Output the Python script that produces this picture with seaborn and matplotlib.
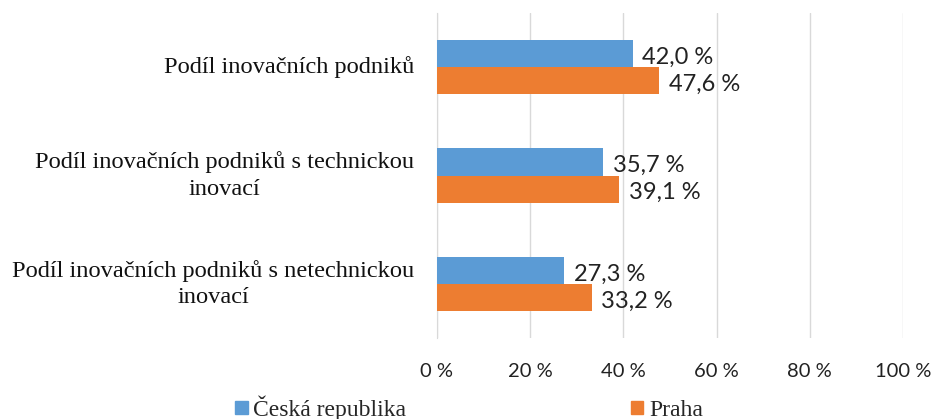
import pandas as pd
import matplotlib.pyplot as plt
import matplotlib.transforms as mtransforms
import seaborn as sns

# data
categories = ['Podíl inovačních podniků',
              'Podíl inovačních podniků s technickou\ninovací',
              'Podíl inovačních podniků s netechnickou\ninovací']
series = ['Česká republika', 'Praha']
cz_values = [42.0, 35.7, 27.3]
praha_values = [47.6, 39.1, 33.2]
xticks = [0, 20, 40, 60, 80, 100]
colors = ['#5B9BD5', '#ED7D31']

df = pd.DataFrame({
    'cat': categories * 2,
    'serie': [series[0]] * 3 + [series[1]] * 3,
    'val': cz_values + praha_values,
})

sns.set_style('white')
plt.rcParams['font.family'] = ['Liberation Serif', 'DejaVu Serif']

fig = plt.figure(figsize=(9.45, 4.19), dpi=100)
ax = fig.add_axes([0.4624, 0.193, 0.4932, 0.776])

sns.barplot(data=df, x='val', y='cat', hue='serie', orient='h',
            palette=colors, width=0.5, saturation=1, linewidth=0,
            ax=ax, legend=False)

ax.set_xlim(0, 100)
ax.set_ylim(2.5, -0.5)
ax.set_xticks(xticks)
ax.set_xticklabels([f'{t} %' for t in xticks], fontsize=14.5, family='Lato', color='#222222')
ax.tick_params(axis='x', pad=18, length=0)
ax.tick_params(axis='y', length=0)
ax.set_yticks(range(len(categories)))
ax.set_yticklabels([])
ax.set_xlabel('')
ax.set_ylabel('')

# category labels, centred lines like the original
trans = mtransforms.blended_transform_factory(ax.transAxes, ax.transData)
for i, c in enumerate(categories):
    ax.text(-0.049, i, c, transform=trans, ha='right', va='center', ma='center',
            fontsize=17.6, color='#111111', linespacing=1.35)

ax.grid(axis='x', color='#d9d9d9', lw=1)
for s in ['top', 'right', 'bottom']:
    ax.spines[s].set_visible(False)
ax.spines['left'].set_color('#d9d9d9')
ax.spines['left'].set_zorder(0)

for cont in ax.containers:
    labels = [f'{v:.1f} %'.replace('.', ',') for v in cont.datavalues]
    txts = ax.bar_label(cont, labels=labels, padding=7, fontsize=17, family='Lato', color='#222222')
    for t in txts:
        t.xyann = (t.xyann[0], -2.5)

handles = [plt.Rectangle((0, 0), 1, 1, color=c) for c in colors]
fig.legend(handles, series, loc='lower left', bbox_to_anchor=(0.2265, -0.055), ncol=2,
           frameon=False, fontsize=17, handlelength=0.52, handleheight=0.52,
           handletextpad=0.25, columnspacing=9.5)

fig.savefig('out.png', dpi=100)
